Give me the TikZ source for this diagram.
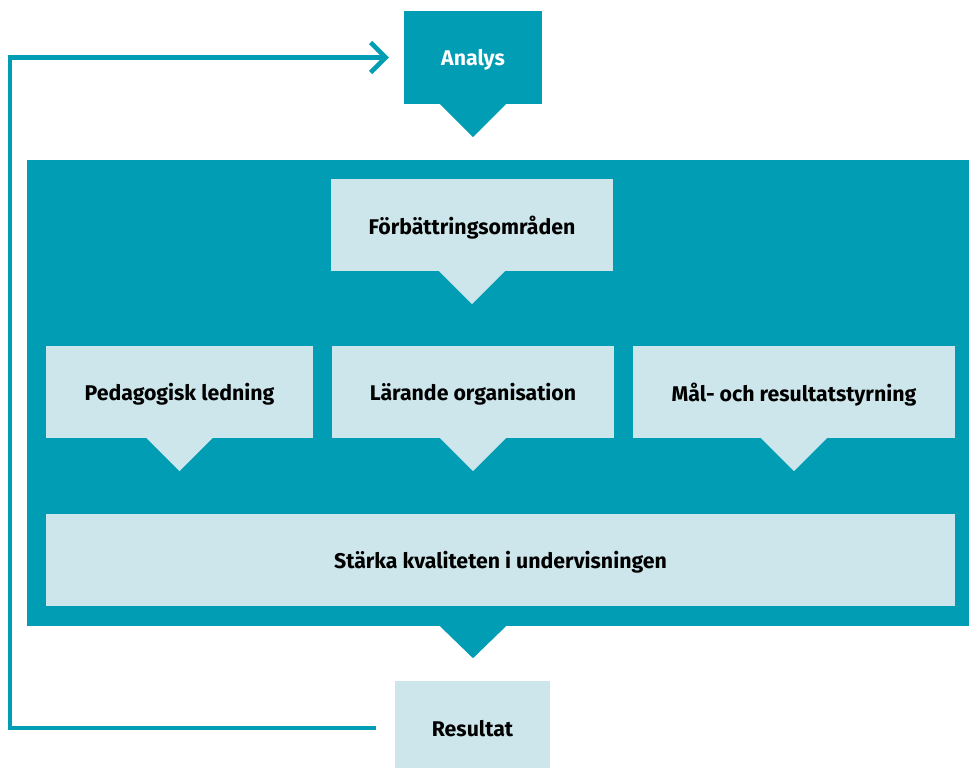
\documentclass[tikz,border=0pt]{standalone}
\usepackage{fontspec}
\setmainfont{Fira Sans}
\usetikzlibrary{arrows.meta}
\definecolor{teal1}{RGB}{0,157,180}
\definecolor{pale}{RGB}{205,230,235}
\begin{document}
\begin{tikzpicture}[x=1pt,y=-1pt]
\tikzstyle{box} = [fill=pale,inner sep=0pt,text depth=0pt,minimum height=92pt,font=\fontsize{21.3}{25}\selectfont\bfseries];
\tikzstyle{dark} = [fill=teal1,inner sep=0pt,text depth=0pt,text=white,font=\fontsize{21.3}{25}\selectfont\bfseries];
\tikzstyle{back} = [draw=teal1,line width=4.5pt,-{Straight Barb[length=15pt,width=30pt]}];
\useasboundingbox (0,0) rectangle (969,768);
\node [dark,minimum width=942pt,minimum height=466pt] (panel) at (498,393) {};
\node [dark,minimum width=138pt,minimum height=93pt] (an) at (473,57.5) {Analys};
\node [box,minimum width=282pt] (fb) at (472,225) {Förbättringsområden};
\node [box,minimum width=267pt] (ped) at (179.5,392) {Pedagogisk ledning};
\node [box,minimum width=282pt] (lar) at (473,392) {Lärande organisation};
\node [box,minimum width=322pt] (mal) at (794,392) {Mål- och resultatstyrning};
\node [box,minimum width=909pt] (sk) at (500.5,560) {Stärka kvaliteten i undervisningen};
\node [box,minimum width=155pt,minimum height=94pt] (res) at (472.5,728) {Resultat};
% pointers
\foreach \n/\c in {an/teal1,fb/pale,ped/pale,lar/pale,mal/pale}
  \fill [\c] ([xshift=-33pt]\n.south) -- ([xshift=33pt]\n.south) -- ([yshift=-33pt]\n.south) -- cycle;
\coordinate (tip) at (lar.south |- panel.south);
\fill [teal1] ([xshift=-33pt]tip) -- ([xshift=33pt]tip) -- ([yshift=-32pt]tip) -- cycle;
% feedback loop
\coordinate (corner) at (10,728);
\draw [back,shorten <=19pt,shorten >=15pt] (res.west) -- (corner) |- (an.west);
\end{tikzpicture}
\end{document}
